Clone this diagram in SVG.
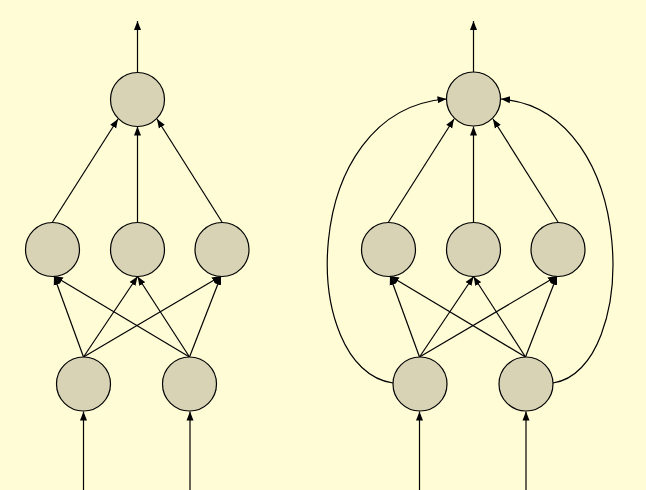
<svg xmlns="http://www.w3.org/2000/svg" width="646" height="490" viewBox="0 0 646 490">
  <defs>
    <marker id="ah" markerWidth="9" markerHeight="8" refX="9" refY="4" orient="auto" markerUnits="userSpaceOnUse">
      <path d="M0,0.5 L9,4 L0,7.5 z" fill="#000"/>
    </marker>
  </defs>
  <style>
    .node { fill: #D7D3B4; stroke: #000; stroke-width: 1.2; }
    .edge { fill: none; stroke: #000; stroke-width: 1.2; marker-end: url(#ah); }
  </style>
  <rect x="0" y="0" width="646" height="490" fill="#FFFCD6"/>

  <g id="connectors">
    <!-- left network -->
    <line class="edge" x1="83.5" y1="490" x2="83.5" y2="411.5"/>
    <line class="edge" x1="190" y1="490" x2="190" y2="411.5"/>
    <line class="edge" x1="83.5" y1="357" x2="54" y2="276"/>
    <line class="edge" x1="83.5" y1="357" x2="137.5" y2="276.5"/>
    <line class="edge" x1="83.5" y1="357" x2="221" y2="276"/>
    <line class="edge" x1="189.5" y1="357" x2="54" y2="276"/>
    <line class="edge" x1="189.5" y1="357" x2="137.5" y2="276.5"/>
    <line class="edge" x1="189.5" y1="357" x2="221" y2="276"/>
    <line class="edge" x1="52.5" y1="222" x2="118" y2="119"/>
    <line class="edge" x1="137.5" y1="222" x2="137.5" y2="126.5"/>
    <line class="edge" x1="222" y1="222" x2="157" y2="119"/>
    <line class="edge" x1="137.5" y1="72" x2="137.5" y2="21"/>

    <!-- right network -->
    <line class="edge" x1="419.5" y1="490" x2="419.5" y2="411.5"/>
    <line class="edge" x1="526" y1="490" x2="526" y2="411.5"/>
    <line class="edge" x1="419.5" y1="357" x2="390" y2="276"/>
    <line class="edge" x1="419.5" y1="357" x2="473.5" y2="276.5"/>
    <line class="edge" x1="419.5" y1="357" x2="557" y2="276"/>
    <line class="edge" x1="525.5" y1="357" x2="390" y2="276"/>
    <line class="edge" x1="525.5" y1="357" x2="473.5" y2="276.5"/>
    <line class="edge" x1="525.5" y1="357" x2="557" y2="276"/>
    <line class="edge" x1="388.5" y1="222" x2="454" y2="119"/>
    <line class="edge" x1="473.5" y1="222" x2="473.5" y2="126.5"/>
    <line class="edge" x1="558" y1="222" x2="493" y2="119"/>
    <line class="edge" x1="473.5" y1="72" x2="473.5" y2="21"/>
    <path class="edge" d="M393,383 C298,370 298,110 446.5,99"/>
    <path class="edge" d="M553,383 C640,370 640,110 501,99"/>
  </g>

  <g id="L-out"><circle class="node" cx="137.5" cy="99.5" r="27"/></g>
  <g id="L-h1"><circle class="node" cx="52.5" cy="249.5" r="27"/></g>
  <g id="L-h2"><circle class="node" cx="137.5" cy="249.5" r="27"/></g>
  <g id="L-h3"><circle class="node" cx="222" cy="249.5" r="27"/></g>
  <g id="L-in1"><circle class="node" cx="83.5" cy="384" r="27"/></g>
  <g id="L-in2"><circle class="node" cx="189.5" cy="384" r="27"/></g>

  <g id="R-out"><circle class="node" cx="473.5" cy="99" r="27"/></g>
  <g id="R-h1"><circle class="node" cx="388.5" cy="249.5" r="27"/></g>
  <g id="R-h2"><circle class="node" cx="473.5" cy="249.5" r="27"/></g>
  <g id="R-h3"><circle class="node" cx="558" cy="249.5" r="27"/></g>
  <g id="R-in1"><circle class="node" cx="420" cy="384" r="27"/></g>
  <g id="R-in2"><circle class="node" cx="526" cy="384" r="27"/></g>
</svg>
